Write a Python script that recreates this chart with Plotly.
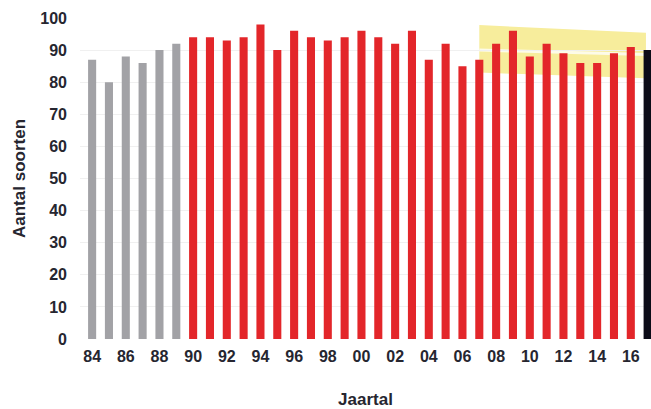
import plotly.graph_objects as go

years = list(range(1984, 2018))
values = [87, 80, 88, 86, 90, 92,
          94, 94, 93, 94, 98, 90, 96, 94, 93, 94,
          96, 94, 92, 96, 87, 92, 85, 87, 92, 96,
          88, 92, 89, 86, 86, 89, 91,
          90]
groups = ["old"] * 6 + ["main"] * 27 + ["last"]
group_colors = {"old": "#a2a2a6", "main": "#e3262a", "last": "#0c0c18"}

tick_years = list(range(1984, 2017, 2))
tick_labels = [f"{y % 100:02d}" for y in tick_years]

# yellow trend band (2007-2017)
band_x = [2007.0, 2016.9]
band_upper = [97.8, 95.4]
band_mid = [90.0, 88.6]
band_lower = [83.0, 81.2]

fig = go.Figure()
for g in ["old", "main", "last"]:
    xs = [y for y, gg in zip(years, groups) if gg == g]
    vs = [v for v, gg in zip(values, groups) if gg == g]
    fig.add_trace(go.Bar(x=xs, y=vs, marker=dict(color=group_colors[g], line=dict(width=0)),
                         width=0.48, showlegend=False, hoverinfo="skip"))

path = (f"M {band_x[0]},{band_upper[0]} L {band_x[1]},{band_upper[1]} "
        f"L {band_x[1]},{band_lower[1]} L {band_x[0]},{band_lower[0]} Z")
fig.add_shape(type="path", path=path, xref="x", yref="y", layer="below",
              fillcolor="#f7ed9c", line=dict(width=0))
fig.add_shape(type="line", x0=band_x[0], y0=band_mid[0], x1=band_x[1], y1=band_mid[1],
              xref="x", yref="y", layer="below", line=dict(color="#fdfbe8", width=3))

font_family = "Liberation Sans, Arial, sans-serif"
fig.update_layout(
    width=651, height=409,
    margin=dict(l=80, r=0, t=18, b=70),
    plot_bgcolor="white", paper_bgcolor="white",
    barmode="overlay",
    font=dict(family=font_family, size=16, color="#262630"),
    xaxis=dict(range=[1983.28, 2017.2], tickmode="array", tickvals=tick_years,
               ticktext=tick_labels, showgrid=False, zeroline=False, showline=False,
               ticks="", ticklabelstandoff=6,
               tickfont=dict(family=font_family, size=16, color="#262630", weight="bold"),
               title=dict(text="<b>Jaartal</b>", standoff=30,
                          font=dict(family=font_family, size=17, color="#262630"))),
    yaxis=dict(range=[0, 100], tickvals=list(range(0, 101, 10)), showgrid=True,
               gridcolor="#f0f0f0", gridwidth=1, zeroline=False, showline=False,
               ticks="", ticklabelstandoff=12,
               tickfont=dict(family=font_family, size=16, color="#262630", weight="bold"),
               title=dict(text="<b>Aantal soorten</b>", standoff=10,
                          font=dict(family=font_family, size=17, color="#262630"))),
)

fig.write_html("out.html", config={"displayModeBar": False},
               post_script="document.body.style.margin='0';document.body.style.overflow='hidden';")
